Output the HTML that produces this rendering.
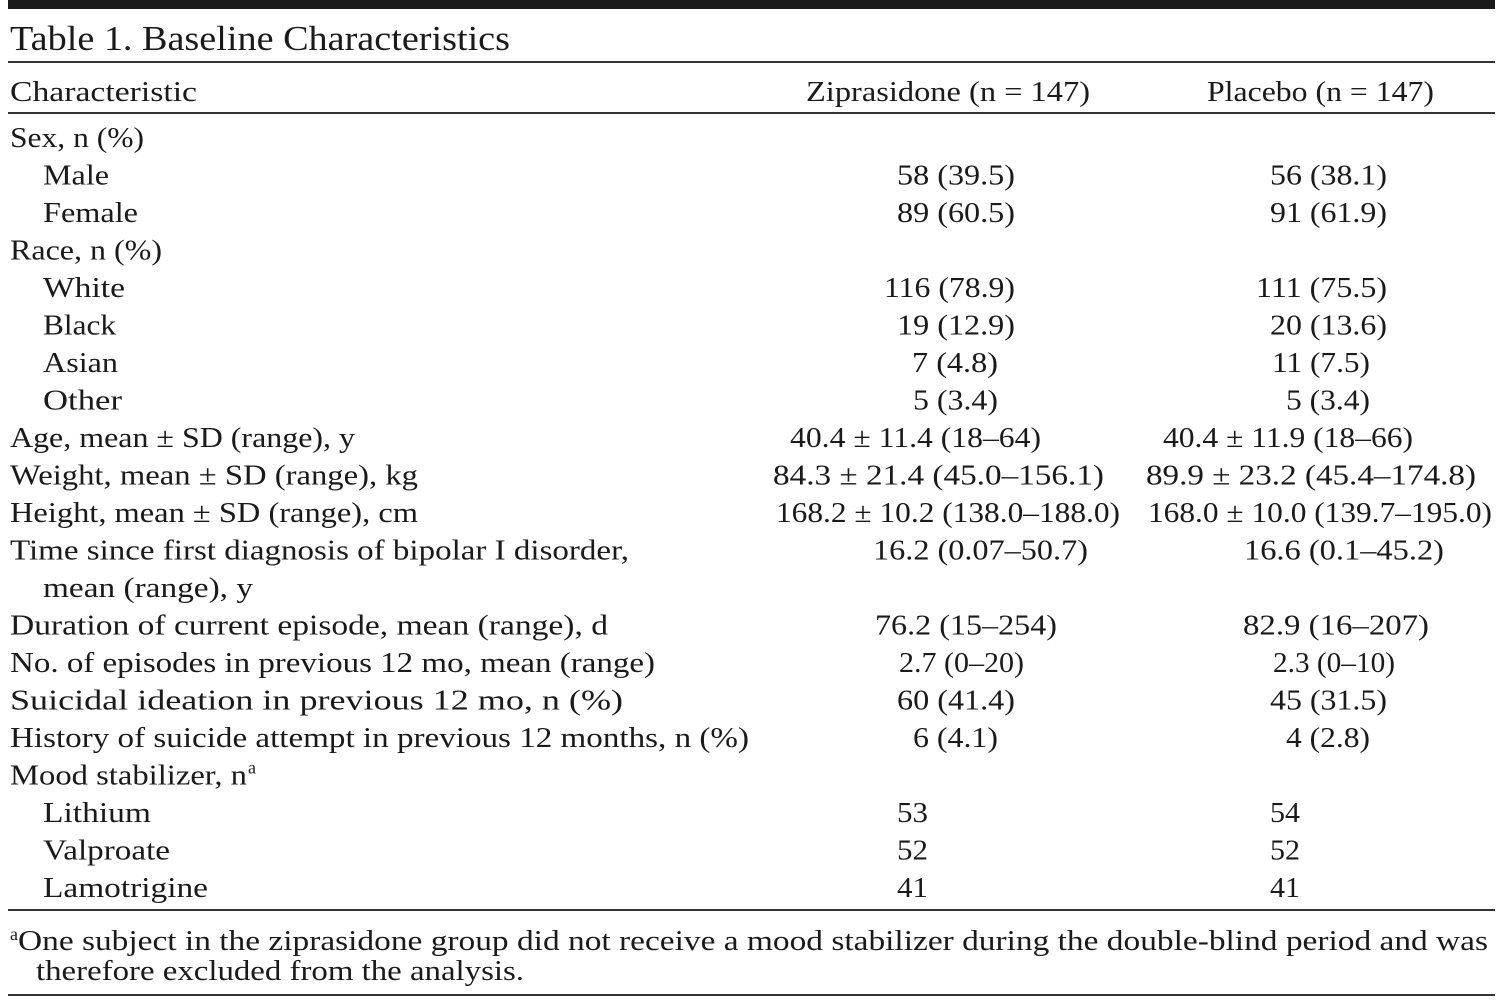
<!DOCTYPE html>
<html><head><meta charset="utf-8"><style>
html,body{margin:0;padding:0;background:#fff}
svg{display:block}
text{font-family:"Liberation Serif",serif;fill:#1a1a1a;font-size:29px}
</style></head><body>
<svg width="1503" height="1000" viewBox="0 0 1503 1000">
<rect x="8" y="0" width="1487" height="9" fill="#1a1a1a"/>
<text x="10" y="50" style="font-size:35px" textLength="500" lengthAdjust="spacingAndGlyphs">Table 1. Baseline Characteristics</text>
<rect x="8" y="61" width="1487" height="2" fill="#333"/>
<text x="10" y="101" textLength="187" lengthAdjust="spacingAndGlyphs">Characteristic</text>
<text x="806" y="101" textLength="284" lengthAdjust="spacingAndGlyphs">Ziprasidone (n = 147)</text>
<text x="1207" y="101" textLength="227" lengthAdjust="spacingAndGlyphs">Placebo (n = 147)</text>
<rect x="8" y="112" width="1487" height="2" fill="#333"/>
<g id="rows"></g>
<rect x="8" y="909" width="1487" height="2" fill="#333"/>
<text x="10" y="950" style="font-size:28px"><tspan style="font-size:18px" dy="-10">a</tspan><tspan dy="10" textLength="1470" lengthAdjust="spacingAndGlyphs">One subject in the ziprasidone group did not receive a mood stabilizer during the double-blind period and was</tspan></text>
<text x="36" y="980" style="font-size:28px" textLength="488" lengthAdjust="spacingAndGlyphs">therefore excluded from the analysis.</text>
<rect x="8" y="994" width="1487" height="2" fill="#333"/>
</svg>
<script>
// [label, labelLeft, labelRight, zipText, zipLeft, zipRight, placText, placLeft, placRight]
var rows=[
["Sex, n (%)",10,144,"",0,0,"",0,0],
["Male",43,109,"58 (39.5)",897,1015,"56 (38.1)",1270,1387],
["Female",43,138,"89 (60.5)",897,1015,"91 (61.9)",1270,1387],
["Race, n (%)",10,162,"",0,0,"",0,0],
["White",43,125,"116 (78.9)",884,1015,"111 (75.5)",1256,1387],
["Black",43,116,"19 (12.9)",897,1015,"20 (13.6)",1270,1387],
["Asian",43,118,"7 (4.8)",912,998,"11 (7.5)",1272,1370],
["Other",43,122,"5 (3.4)",913,998,"5 (3.4)",1286,1370],
["Age, mean ± SD (range), y",10,355,"40.4 ± 11.4 (18–64)",790,1041,"40.4 ± 11.9 (18–66)",1163,1413],
["Weight, mean ± SD (range), kg",10,418,"84.3 ± 21.4 (45.0–156.1)",773,1104,"89.9 ± 23.2 (45.4–174.8)",1146,1476],
["Height, mean ± SD (range), cm",10,418,"168.2 ± 10.2 (138.0–188.0)",776,1120,"168.0 ± 10.0 (139.7–195.0)",1148,1492],
["Time since first diagnosis of bipolar I disorder,",10,629,"16.2 (0.07–50.7)",873,1088,"16.6 (0.1–45.2)",1244,1444],
["mean (range), y",43,253,"",0,0,"",0,0],
["Duration of current episode, mean (range), d",10,608,"76.2 (15–254)",875,1057,"82.9 (16–207)",1243,1429],
["No. of episodes in previous 12 mo, mean (range)",10,655,"2.7 (0–20)",899,1024,"2.3 (0–10)",1273,1395],
["Suicidal ideation in previous 12 mo, n (%)",10,623,"60 (41.4)",897,1015,"45 (31.5)",1270,1387],
["History of suicide attempt in previous 12 months, n (%)",10,749,"6 (4.1)",913,998,"4 (2.8)",1286,1370],
["Mood stabilizer, n",10,247,"",0,0,"",0,0],
["Lithium",43,151,"53",897,928,"54",1270,1300],
["Valproate",43,170,"52",897,928,"52",1270,1300],
["Lamotrigine",43,208,"41",897,928,"41",1270,1300]
];
var NS="http://www.w3.org/2000/svg";
var g=document.getElementById("rows");
function t(str,x0,x1,y,name){
  if(!str)return null;
  var e=document.createElementNS(NS,"text");
  e.setAttribute("x",x0);e.setAttribute("y",y);
  if(x1>x0){
    e.setAttribute("textLength",x1-x0);
    e.setAttribute("lengthAdjust","spacingAndGlyphs");
  }
  e.textContent=str;
  
  
  g.appendChild(e);return e;
}
rows.forEach(function(r,i){
  var y=147+i*37.5;
  t(r[0],r[1],r[2],y,"row-label");
  t(r[3],r[4],r[5],y,"ziprasidone-value");
  t(r[6],r[7],r[8],y,"placebo-value");
  if(r[0]==="Mood stabilizer, n"){
    var s=document.createElementNS(NS,"text");
    s.setAttribute("x",r[2]+1);s.setAttribute("y",y-11);
    s.setAttribute("style","font-size:18px");
    s.textContent="a";
    
    
    g.appendChild(s);
  }
});
</script>
</body></html>
